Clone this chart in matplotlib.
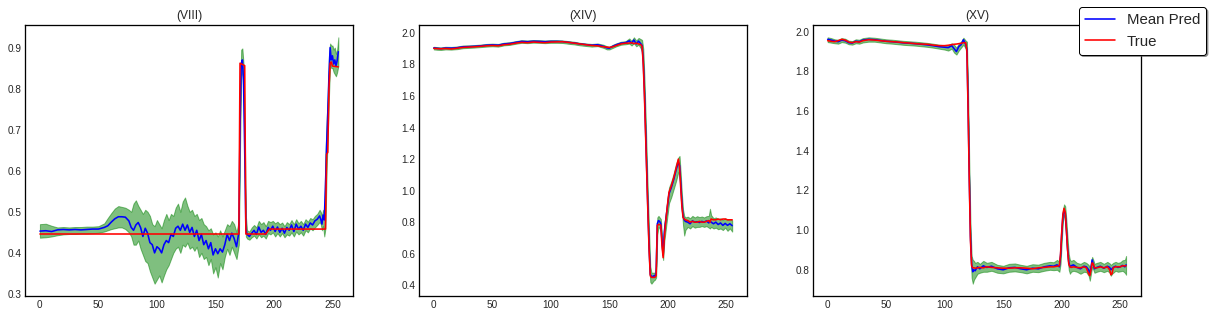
import matplotlib
matplotlib.use("Agg")
import matplotlib.pyplot as plt

# ---- panel (VIII) ----
x1 = [0, 5, 10, 15, 20, 25, 30, 35, 40, 45, 50, 55,
      58, 61, 64, 67, 70, 73, 76,
      78, 80, 82, 84, 86, 88, 90, 92, 94, 96, 98, 100, 102, 104, 106, 108, 110,
      112, 114, 116, 118, 120, 122, 124, 126, 128, 130, 132, 134, 136, 138, 140,
      142, 144, 146, 148, 150, 152, 154, 156, 158, 160, 162, 164, 166, 168, 170,
      171, 172, 173, 174, 175, 176, 177,
      179, 181, 183, 185, 187, 189, 191, 193, 195, 197, 199, 201, 203, 205, 207,
      209, 211, 213, 215, 217, 219, 221, 223, 225, 227, 229, 231, 233, 235, 237, 239,
      240, 241, 242, 243, 244, 245, 246, 247, 248, 249, 250, 251, 252, 253, 254, 255]
m1 = [0.453, 0.454, 0.452, 0.456, 0.457, 0.456, 0.457, 0.456, 0.457, 0.458, 0.458, 0.462,
      0.466, 0.475, 0.483, 0.488, 0.488, 0.487, 0.478,
      0.462, 0.455, 0.468, 0.474, 0.462, 0.440, 0.460, 0.448, 0.425, 0.420, 0.400, 0.415,
      0.410, 0.400, 0.420, 0.430, 0.425, 0.445, 0.440, 0.460, 0.465, 0.455, 0.470, 0.455,
      0.468, 0.450, 0.462, 0.440, 0.455, 0.430, 0.445, 0.420, 0.430, 0.410, 0.425, 0.395,
      0.410, 0.398, 0.410, 0.402, 0.420, 0.445, 0.430, 0.448, 0.435, 0.415, 0.450,
      0.700, 0.860, 0.870, 0.820, 0.650, 0.460, 0.445,
      0.440, 0.448, 0.455, 0.445, 0.463, 0.450, 0.455, 0.445, 0.462, 0.455, 0.465, 0.452,
      0.463, 0.450, 0.460, 0.448, 0.462, 0.455, 0.468, 0.452, 0.470, 0.458, 0.465, 0.455,
      0.470, 0.462, 0.473, 0.468, 0.478, 0.482, 0.490,
      0.482, 0.470, 0.492, 0.480, 0.560, 0.660, 0.740, 0.830, 0.900, 0.870, 0.880, 0.860,
      0.870, 0.855, 0.868, 0.890]
lo1 = [0.437, 0.438, 0.440, 0.443, 0.445, 0.446, 0.446, 0.447, 0.447, 0.448, 0.449, 0.452,
       0.455, 0.458, 0.460, 0.462, 0.462, 0.458, 0.450,
       0.440, 0.420, 0.420, 0.430, 0.410, 0.395, 0.380, 0.375, 0.355, 0.340, 0.325, 0.335,
       0.345, 0.328, 0.345, 0.360, 0.370, 0.385, 0.400, 0.410, 0.415, 0.400, 0.420, 0.415,
       0.425, 0.410, 0.415, 0.405, 0.415, 0.390, 0.400, 0.385, 0.390, 0.370, 0.385, 0.350,
       0.365, 0.340, 0.375, 0.360, 0.390, 0.410, 0.395, 0.415, 0.400, 0.385, 0.420,
       0.650, 0.830, 0.845, 0.780, 0.600, 0.440, 0.435,
       0.432, 0.438, 0.442, 0.435, 0.445, 0.438, 0.442, 0.435, 0.448, 0.445, 0.450, 0.440,
       0.448, 0.440, 0.448, 0.438, 0.445, 0.442, 0.450, 0.440, 0.452, 0.445, 0.450, 0.442,
       0.455, 0.450, 0.460, 0.455, 0.462, 0.468, 0.475,
       0.470, 0.455, 0.465, 0.440, 0.460, 0.600, 0.690, 0.780, 0.860, 0.850, 0.850, 0.840,
       0.835, 0.830, 0.840, 0.855]
hi1 = [0.470, 0.471, 0.466, 0.462, 0.463, 0.462, 0.463, 0.463, 0.464, 0.464, 0.465, 0.472,
       0.485, 0.497, 0.508, 0.514, 0.512, 0.510, 0.505,
       0.500, 0.520, 0.528, 0.515, 0.505, 0.495, 0.505, 0.500, 0.490, 0.470, 0.465, 0.480,
       0.470, 0.460, 0.480, 0.495, 0.480, 0.495, 0.490, 0.510, 0.520, 0.500, 0.525, 0.535,
       0.515, 0.500, 0.505, 0.490, 0.495, 0.480, 0.485, 0.470, 0.465, 0.455, 0.460, 0.445,
       0.450, 0.440, 0.455, 0.440, 0.455, 0.470, 0.465, 0.478, 0.470, 0.450, 0.480,
       0.760, 0.895, 0.898, 0.860, 0.700, 0.490, 0.455,
       0.452, 0.462, 0.468, 0.462, 0.478, 0.470, 0.475, 0.465, 0.478, 0.475, 0.478, 0.472,
       0.476, 0.470, 0.474, 0.465, 0.475, 0.470, 0.480, 0.470, 0.482, 0.472, 0.478, 0.470,
       0.482, 0.476, 0.485, 0.482, 0.490, 0.495, 0.505,
       0.500, 0.490, 0.505, 0.495, 0.640, 0.720, 0.790, 0.880, 0.910, 0.905, 0.905, 0.895,
       0.900, 0.885, 0.895, 0.925]
xt1 = [0, 170, 171, 175, 176, 193, 196, 244, 245, 246, 247, 248, 249, 250, 255]
t1 = [0.446, 0.446, 0.862, 0.856, 0.446, 0.446, 0.458, 0.458, 0.640, 0.645, 0.800,
      0.862, 0.865, 0.855, 0.853]

# ---- panel (XIV) ----
x2 = [0, 3, 6,
      10, 15, 20, 25, 30, 35, 40, 45, 50, 55, 60, 65, 70, 75, 80, 85, 90, 95, 100,
      105, 110, 115, 120, 125, 130, 135, 140, 145,
      148, 150, 153, 156, 160, 164, 167, 169, 171, 173, 175, 177,
      178, 179, 180, 181, 182, 183, 184, 185, 186, 187, 188, 189, 190, 191, 192, 193,
      194, 195, 196, 197, 198,
      200, 201, 203, 205, 207, 209,
      210, 211, 212, 213, 214, 215,
      217, 219, 221, 223, 225, 227, 229, 231, 233, 235,
      236, 237,
      239, 241, 243, 245, 247, 249, 251, 253, 255]
t2 = [1.902, 1.900, 1.899,
      1.901, 1.898, 1.903, 1.908, 1.910, 1.912, 1.915, 1.918, 1.920, 1.918, 1.925, 1.928,
      1.935, 1.940, 1.938, 1.942, 1.940, 1.938, 1.942, 1.943, 1.944, 1.940, 1.935, 1.930,
      1.925, 1.920, 1.918, 1.912,
      1.910, 1.908, 1.912, 1.920, 1.930, 1.935, 1.935, 1.938, 1.932, 1.935, 1.930, 1.925,
      1.915, 1.800, 1.600, 1.350, 1.100, 0.850, 0.620, 0.460, 0.450, 0.450, 0.450, 0.450,
      0.460, 0.780, 0.785, 0.785, 0.780, 0.650, 0.575, 0.700, 0.790,
      0.930, 0.990, 1.030, 1.080, 1.140, 1.200,
      1.150, 1.020, 0.900, 0.830, 0.820, 0.815,
      0.810, 0.800, 0.805, 0.800, 0.800, 0.805, 0.800, 0.800, 0.805, 0.810,
      0.800, 0.820,
      0.815, 0.815, 0.820, 0.815, 0.820, 0.820, 0.815, 0.815, 0.815]
m2 = [1.905, 1.902, 1.900,
      1.904, 1.903, 1.906, 1.912, 1.913, 1.915, 1.918, 1.922, 1.924, 1.922, 1.930, 1.933,
      1.940, 1.946, 1.944, 1.947, 1.946, 1.944, 1.946, 1.946, 1.945, 1.940, 1.936, 1.930,
      1.926, 1.922, 1.925, 1.915,
      1.905, 1.903, 1.915, 1.925, 1.935, 1.938, 1.950, 1.935, 1.955, 1.930, 1.948, 1.930,
      1.920, 1.820, 1.630, 1.380, 1.120, 0.870, 0.640, 0.470, 0.455, 0.455, 0.460, 0.458,
      0.480, 0.790, 0.810, 0.805, 0.790, 0.680, 0.590, 0.740, 0.800,
      0.920, 0.980, 1.020, 1.070, 1.130, 1.180,
      1.160, 1.050, 0.920, 0.840, 0.815, 0.805,
      0.800, 0.790, 0.808, 0.800, 0.803, 0.798, 0.805, 0.800, 0.808, 0.795,
      0.808, 0.800,
      0.790, 0.800, 0.785, 0.795, 0.780, 0.792, 0.780, 0.790, 0.778]
lo2 = [1.895, 1.893, 1.892,
       1.895, 1.894, 1.897, 1.903, 1.905, 1.907, 1.910, 1.913, 1.915, 1.913, 1.921, 1.924,
       1.931, 1.937, 1.935, 1.938, 1.937, 1.935, 1.937, 1.937, 1.936, 1.931, 1.927, 1.921,
       1.917, 1.913, 1.916, 1.905,
       1.895, 1.895, 1.905, 1.915, 1.925, 1.928, 1.932, 1.920, 1.935, 1.915, 1.925, 1.900,
       1.880, 1.760, 1.560, 1.300, 1.030, 0.780, 0.560, 0.420, 0.410, 0.420, 0.430, 0.435,
       0.450, 0.720, 0.770, 0.760, 0.740, 0.620, 0.560, 0.680, 0.740,
       0.860, 0.920, 0.960, 1.010, 1.060, 1.120,
       1.100, 1.000, 0.880, 0.780, 0.715, 0.750,
       0.770, 0.760, 0.775, 0.765, 0.770, 0.770, 0.775, 0.770, 0.775, 0.765,
       0.760, 0.770,
       0.760, 0.765, 0.755, 0.760, 0.750, 0.765, 0.745, 0.760, 0.740]
hi2 = [1.912, 1.910, 1.908,
       1.912, 1.911, 1.914, 1.920, 1.921, 1.923, 1.926, 1.930, 1.932, 1.930, 1.938, 1.941,
       1.948, 1.954, 1.952, 1.955, 1.954, 1.952, 1.954, 1.954, 1.952, 1.948, 1.944, 1.937,
       1.933, 1.930, 1.933, 1.925,
       1.915, 1.912, 1.925, 1.934, 1.944, 1.948, 1.965, 1.950, 1.972, 1.952, 1.968, 1.960,
       1.955, 1.900, 1.720, 1.480, 1.220, 0.960, 0.740, 0.520, 0.480, 0.480, 0.480, 0.480,
       0.520, 0.830, 0.840, 0.830, 0.820, 0.720, 0.640, 0.790, 0.840,
       0.960, 1.020, 1.060, 1.110, 1.170, 1.210,
       1.220, 1.110, 0.980, 0.880, 0.840, 0.830,
       0.835, 0.825, 0.840, 0.830, 0.838, 0.832, 0.836, 0.830, 0.838, 0.840,
       0.885, 0.845,
       0.825, 0.830, 0.820, 0.825, 0.815, 0.825, 0.815, 0.820, 0.812]

# ---- panel (XV) ----
x3 = [0, 3, 6, 9, 12, 15, 18, 21, 24, 27, 30,
      35, 40, 45, 50, 55, 60, 65, 70, 75, 80, 85, 90, 95, 100,
      103, 106, 108, 110, 112, 114, 116, 118,
      119, 120, 121, 122, 123, 124, 125, 126,
      128, 130, 133, 136,
      140, 145, 150, 155, 160, 165, 170, 175, 180, 185, 190,
      193, 196, 198,
      199, 200, 201, 202, 203, 204, 205, 206, 207, 208,
      210, 213, 216, 219, 221, 223,
      224, 225, 226, 227, 228,
      230, 233, 236, 239, 241,
      242, 243, 244,
      246, 248, 250, 252, 254, 255]
t3 = [1.955, 1.952, 1.950, 1.955, 1.962, 1.958, 1.948, 1.945, 1.950, 1.948, 1.955,
      1.960, 1.958, 1.955, 1.952, 1.950, 1.948, 1.945, 1.943, 1.940, 1.938, 1.937, 1.933,
      1.930, 1.930,
      1.932, 1.935, 1.937, 1.938, 1.940, 1.942, 1.945, 1.945,
      1.900, 1.600, 1.250, 0.950, 0.820, 0.810, 0.810, 0.808,
      0.810, 0.812, 0.810, 0.815,
      0.812, 0.810, 0.808, 0.808, 0.810, 0.810, 0.808, 0.805, 0.810, 0.812, 0.815,
      0.815, 0.818, 0.820,
      0.880, 0.990, 1.080, 1.110, 1.090, 1.000, 0.900, 0.830, 0.815, 0.812,
      0.815, 0.812, 0.810, 0.815, 0.810, 0.780,
      0.770, 0.800, 0.835, 0.830, 0.810,
      0.810, 0.815, 0.810, 0.815, 0.800,
      0.775, 0.780, 0.810,
      0.815, 0.815, 0.815, 0.820, 0.820, 0.820]
m3 = [1.962, 1.958, 1.953, 1.950, 1.958, 1.955, 1.945, 1.943, 1.952, 1.950, 1.958,
      1.962, 1.960, 1.956, 1.952, 1.950, 1.947, 1.944, 1.942, 1.940, 1.937, 1.934, 1.930,
      1.925, 1.922,
      1.920, 1.930, 1.915, 1.900, 1.925, 1.935, 1.960, 1.935,
      1.910, 1.620, 1.270, 0.970, 0.830, 0.790, 0.800, 0.795,
      0.815, 0.805, 0.820, 0.812,
      0.818, 0.805, 0.800, 0.810, 0.812, 0.805, 0.800, 0.808, 0.805, 0.815, 0.820,
      0.818, 0.825, 0.815,
      0.870, 0.980, 1.070, 1.100, 1.085, 1.000, 0.905, 0.840, 0.815, 0.820,
      0.825, 0.812, 0.805, 0.818, 0.815, 0.800,
      0.775, 0.810, 0.850, 0.825, 0.805,
      0.812, 0.818, 0.808, 0.818, 0.812,
      0.800, 0.805, 0.812,
      0.818, 0.812, 0.815, 0.822, 0.815, 0.825]
lo3 = [1.948, 1.945, 1.942, 1.940, 1.948, 1.945, 1.937, 1.935, 1.942, 1.940, 1.946,
       1.950, 1.950, 1.946, 1.942, 1.940, 1.937, 1.934, 1.932, 1.930, 1.927, 1.924, 1.920,
       1.915, 1.910,
       1.905, 1.915, 1.895, 1.885, 1.905, 1.920, 1.935, 1.915,
       1.850, 1.560, 1.200, 0.900, 0.760, 0.730, 0.750, 0.760,
       0.780, 0.785, 0.790, 0.790,
       0.795, 0.785, 0.782, 0.790, 0.792, 0.788, 0.782, 0.790, 0.788, 0.795, 0.800,
       0.798, 0.800, 0.790,
       0.830, 0.940, 1.040, 1.075, 1.060, 0.960, 0.860, 0.800, 0.780, 0.790,
       0.795, 0.790, 0.780, 0.790, 0.788, 0.770,
       0.745, 0.780, 0.815, 0.800, 0.785,
       0.790, 0.795, 0.788, 0.795, 0.785,
       0.770, 0.780, 0.785,
       0.795, 0.790, 0.792, 0.795, 0.785, 0.775]
hi3 = [1.972, 1.968, 1.962, 1.960, 1.968, 1.965, 1.955, 1.953, 1.962, 1.960, 1.968,
       1.972, 1.970, 1.966, 1.962, 1.960, 1.957, 1.954, 1.952, 1.950, 1.947, 1.944, 1.940,
       1.935, 1.932,
       1.932, 1.942, 1.935, 1.920, 1.940, 1.950, 1.970, 1.955,
       1.950, 1.700, 1.340, 1.040, 0.870, 0.850, 0.845, 0.835,
       0.840, 0.830, 0.845, 0.835,
       0.840, 0.825, 0.820, 0.830, 0.832, 0.825, 0.820, 0.828, 0.826, 0.835, 0.840,
       0.838, 0.850, 0.840,
       0.910, 1.020, 1.100, 1.130, 1.120, 1.050, 0.960, 0.880, 0.850, 0.845,
       0.850, 0.835, 0.830, 0.840, 0.835, 0.825,
       0.810, 0.835, 0.865, 0.850, 0.830,
       0.835, 0.840, 0.830, 0.840, 0.832,
       0.825, 0.830, 0.835,
       0.840, 0.835, 0.838, 0.848, 0.850, 0.870]

titles = ["(VIII)", "(XIV)", "(XV)"]

plt.style.use("seaborn-v0_8-white")
plt.rcParams["font.family"] = ["Liberation Sans", "DejaVu Sans"]

fig, axes = plt.subplots(1, 3, figsize=(1212 / 72, 316 / 72), dpi=72)
fig.subplots_adjust(left=25 / 1212, right=1141 / 1212, bottom=20 / 316, top=291 / 316,
                    wspace=0.2)

panels = [(x1, m1, lo1, hi1, xt1, t1),
          (x2, m2, lo2, hi2, x2, t2),
          (x3, m3, lo3, hi3, x3, t3)]

for ax, (x, m, lo, hi, xt, t), title in zip(axes, panels, titles):
    ax.fill_between(x, lo, hi, color="green", alpha=0.5)
    ax.plot(x, m, color="blue", lw=1.6, label="Mean Pred")
    ax.plot(xt, t, color="red", lw=1.6, label="True")
    ax.set_title(title, fontsize=12)
    ax.tick_params(labelsize=10)
    for s in ax.spines.values():
        s.set_edgecolor("black")
        s.set_linewidth(1.3)

handles, labels = axes[2].get_legend_handles_labels()
fig.legend(handles, labels, loc="upper right", bbox_to_anchor=(1206 / 1212, 1 - 7 / 316),
           borderaxespad=0, fontsize=15, frameon=True, fancybox=True, shadow=True,
           edgecolor="black", framealpha=1)

fig.savefig("out.png", dpi=72)
